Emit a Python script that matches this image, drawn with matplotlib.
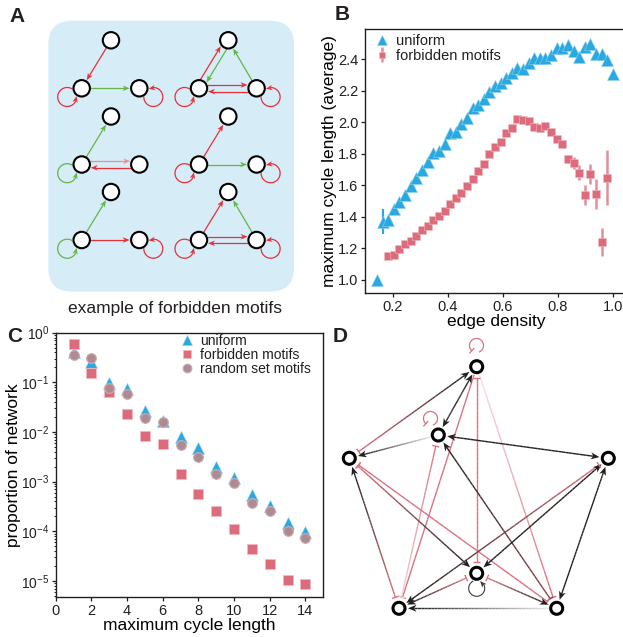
import numpy as np
import matplotlib
matplotlib.use('Agg')
import matplotlib.pyplot as plt
from matplotlib.patches import Circle, FancyBboxPatch, Polygon
from matplotlib.collections import LineCollection
from matplotlib.colors import to_rgb

plt.rcParams['font.family'] = ['Liberation Sans', 'DejaVu Sans']
plt.rcParams['mathtext.fontset'] = 'custom'
plt.rcParams['mathtext.rm'] = 'Liberation Sans'
plt.rcParams['mathtext.it'] = 'Liberation Sans:italic'
plt.rcParams['mathtext.bf'] = 'Liberation Sans:bold'
TXT = '#231F20'
plt.rcParams['text.color'] = TXT
plt.rcParams['axes.edgecolor'] = TXT
plt.rcParams['xtick.color'] = TXT
plt.rcParams['ytick.color'] = TXT

BLUE = '#2AA9E0'
RED = '#DC6C7B'
RED_ERR = '#E48E9A'
MAUVE = '#AE8A93'
A_RED = '#E8303A'
A_GREEN = '#64B646'
A_BG = '#D6ECF7'
D_RED = '#DB7080'
D_BLACK = '#231F20'

# ---- panel B data: edge density vs average maximum cycle length ----
dens_uniform = [0.143, 0.163, 0.184, 0.204, 0.224, 0.245, 0.265, 0.286, 0.306, 0.327,
                0.347, 0.367, 0.388, 0.408, 0.429, 0.449, 0.469, 0.490, 0.510, 0.531,
                0.551, 0.571, 0.592, 0.612, 0.633, 0.653, 0.673, 0.694, 0.714, 0.735,
                0.755, 0.776, 0.796, 0.816, 0.837, 0.857, 0.878, 0.898, 0.918, 0.939,
                0.959, 0.980, 1.000]
maxlen_uniform = [1.00, 1.37, 1.38, 1.448, 1.497, 1.539, 1.596, 1.645, 1.698, 1.75,
                  1.803, 1.82, 1.863, 1.935, 1.939, 1.99, 2.028, 2.089, 2.108, 2.15,
                  2.195, 2.23, 2.248, 2.28, 2.311, 2.345, 2.336, 2.379, 2.406, 2.41,
                  2.406, 2.427, 2.474, 2.474, 2.489, 2.455, 2.412, 2.48, 2.499, 2.431,
                  2.431, 2.396, 2.307]
err_uniform = [0, 0.077] + [0] * 41

dens_forbidden = [0.184, 0.204, 0.224, 0.245, 0.265, 0.286, 0.306, 0.327, 0.347, 0.367,
                  0.388, 0.408, 0.429, 0.449, 0.469, 0.490, 0.510, 0.531, 0.551, 0.571,
                  0.592, 0.612, 0.633, 0.653, 0.673, 0.694, 0.714, 0.735, 0.755, 0.776,
                  0.796, 0.816, 0.837, 0.857, 0.878, 0.898, 0.918, 0.939, 0.959, 0.980]
maxlen_forbidden = [1.154, 1.160, 1.197, 1.228, 1.249, 1.281, 1.317, 1.342, 1.380, 1.408,
                    1.437, 1.484, 1.522, 1.552, 1.598, 1.640, 1.693, 1.737, 1.801, 1.846,
                    1.877, 1.934, 1.962, 2.019, 2.015, 2.011, 1.973, 1.966, 1.977, 1.941,
                    1.892, 1.863, 1.765, 1.740, 1.681, 1.539, 1.670, 1.543, 1.239, 1.649]
err_forbidden = [0] * 26 + [0.008, 0.008, 0.01, 0.01, 0.02, 0.02, 0.026, 0.037,
                            0.048, 0.066, 0.063, 0.095, 0.09, 0.176]

# ---- panel C data: distribution of maximum cycle length ----
cycle_len = [1, 2, 3, 4, 5, 6, 7, 8, 9, 10, 11, 12, 13, 14]
prop_uniform = [0.40, 0.26, 0.095, 0.072, 0.026, 0.0165, 0.0078, 0.0048, 0.0020,
                0.00119, 0.00053, 0.00032, 0.000148, 0.000096]
prop_forbidden = [0.583, 0.153, 0.065, 0.0233, 0.0084, 0.0058, 0.00143, 0.000575,
                  0.000258, 0.000111, 4.3e-5, 2.16e-5, 1.05e-5, 8.5e-6]
prop_random = [0.351, 0.315, 0.076, 0.058, 0.019, 0.0158, 0.0055, 0.0032, 0.00145,
               0.00092, 0.000374, 0.000255, 0.000101, 7.4e-5]

# ---- panel A: motif layout (node offsets and edges) ----
motif_origins = [(81.7, 88.3), (199, 88.3), (81.7, 164.5), (199, 164.5), (81.7, 240), (199, 240)]
motif_nodes = {'BL': (0, 0), 'BR': (57.6, 0), 'T': (29.3, -48)}
motif_edges = [
    [('T', 'BL', A_RED, 0), ('BL', 'BR', A_GREEN, 0)],
    [('BL', 'T', A_RED, 3.3), ('T', 'BL', A_GREEN, 3.3), ('BR', 'T', A_GREEN, 0),
     ('BL', 'BR', A_RED, 3.3), ('BR', 'BL', A_RED, 3.3)],
    [('BL', 'T', A_GREEN, 0), ('BL', 'BR', '#EE8E92', 3.3), ('BR', 'BL', A_RED, 3.3)],
    [('BL', 'T', A_RED, 0), ('BL', 'BR', A_GREEN, 0)],
    [('BL', 'T', A_GREEN, 0), ('BL', 'BR', A_RED, 0)],
    [('BL', 'T', A_RED, 0), ('BR', 'T', A_GREEN, 0),
     ('BL', 'BR', A_RED, 3.3), ('BR', 'BL', A_RED, 3.3)],
]
motif_loops = [(A_RED, A_RED), (A_RED, A_RED), (A_GREEN, None),
               (A_RED, A_RED), (A_GREEN, A_RED), (A_RED, A_RED)]

# ---- panel D: network ----
d_nodes = {1: (476.7, 366.7), 2: (438.3, 435), 3: (349.3, 458.3), 4: (608.3, 458.3),
           5: (476.7, 573.3), 6: (399, 608.3), 7: (556.7, 608.3)}
K, R = D_BLACK, D_RED
d_edges = [
    (1, 3, 'arrow', 'tee', K, R),
    (1, 2, 'arrow', 'arrow', K, K),
    (1, 5, 'tee', 'tee', R, R),
    (1, 6, None, 'tee', R, R),
    (1, 7, None, 'tee', '#F8E0E4', R),
    (2, 3, None, 'arrow', '#E2E2E2', K),
    (2, 4, 'arrow', 'arrow', K, K),
    (2, 6, 'tee', 'tee', R, '#F4CDD3'),
    (2, 7, 'arrow', 'tee', K, '#8E4650'),
    (3, 5, 'tee', 'arrow', R, K),
    (3, 7, 'tee', 'tee', R, R),
    (3, 6, 'arrow', 'tee', K, R),
    (4, 5, 'arrow', 'arrow', K, K),
    (4, 6, 'tee', 'arrow', R, K),
    (4, 7, 'arrow', 'arrow', K, K),
    (5, 6, 'tee', 'arrow', R, K),
    (5, 7, 'tee', 'arrow', R, K),
    (7, 6, None, 'arrow', '#E6E6E6', K),
]

W, H = 623, 637
fig = plt.figure(figsize=(W / 100, H / 100), dpi=100)
ov = fig.add_axes([0, 0, 1, 1], zorder=0)
ov.set_xlim(0, W)
ov.set_ylim(H, 0)
ov.axis('off')


def unit(v):
    v = np.asarray(v, dtype=float)
    return v / np.hypot(v[0], v[1])


def head(p, d, kind, color, L, Wd, lw=1.0):
    p = np.asarray(p, dtype=float)
    d = unit(d)
    n = np.array([-d[1], d[0]])
    if kind == 'arrow':
        base = p - d * L
        pts = [p, base + n * Wd / 2, p - d * L * 0.72, base - n * Wd / 2]
        ov.add_patch(Polygon(pts, closed=True, fc=color, ec='none', zorder=4))
        return p - d * L * 0.7
    if kind == 'tee':
        ov.plot([p[0] + n[0] * Wd / 2, p[0] - n[0] * Wd / 2],
                [p[1] + n[1] * Wd / 2, p[1] - n[1] * Wd / 2],
                color=color, lw=lw, solid_capstyle='butt', zorder=4)
    return p


def grad_line(p0, p1, c0, c1, lw, n=40):
    p0, p1 = np.asarray(p0), np.asarray(p1)
    t = np.linspace(0, 1, n + 1)
    pts = p0 + (p1 - p0) * t[:, None]
    segs = np.stack([pts[:-1], pts[1:]], axis=1)
    a, b = np.array(to_rgb(c0)), np.array(to_rgb(c1))
    tm = (t[:-1] + t[1:]) / 2
    cols = a + (b - a) * tm[:, None]
    ov.add_collection(LineCollection(segs, colors=cols, linewidths=lw,
                                     capstyle='butt', zorder=3))


def loop(c, off, rl, rn, color, kind, lw, L, Wd, n=120):
    c = np.asarray(c, dtype=float)
    lc = c + np.asarray(off)
    dv = c - lc
    dist = np.hypot(dv[0], dv[1])
    phi = np.arctan2(dv[1], dv[0])
    alpha = np.arccos(np.clip((dist ** 2 + rl ** 2 - rn ** 2) / (2 * dist * rl), -1, 1))
    t = np.linspace(phi + 2 * np.pi - alpha, phi + alpha, n)
    pts = lc + rl * np.column_stack([np.cos(t), np.sin(t)])
    dt = L / rl
    back = lc + rl * np.array([np.cos(phi + alpha + dt), np.sin(phi + alpha + dt)])
    head(pts[-1], pts[-1] - back, kind, color, L, Wd)
    keep = t >= phi + alpha + dt * 0.7
    ov.plot(pts[keep, 0], pts[keep, 1], color=color, lw=lw, zorder=3,
            solid_capstyle='butt')


def open_loop(center, r, t0, t1, color, lw, Wd):
    t = np.radians(np.linspace(t0, t1, 80))
    cx, cy = center
    xs, ys = cx + r * np.cos(t), cy + r * np.sin(t)
    ov.plot(xs, ys, color=color, lw=lw, zorder=3)
    rad = np.array([np.cos(t[-1]), np.sin(t[-1])])
    p = np.array([xs[-1], ys[-1]])
    ov.plot([p[0] - rad[0] * Wd / 2, p[0] + rad[0] * Wd / 2],
            [p[1] - rad[1] * Wd / 2, p[1] + rad[1] * Wd / 2], color=color, lw=lw, zorder=4)


# ================= Panel A =================
ov.add_patch(FancyBboxPatch((48.3, 20.7), 245.7, 271, boxstyle='round,pad=0,rounding_size=24',
                            fc=A_BG, ec='none', zorder=1))
RA, RA_OUT = 8.2, 9.3
for (ox, oy), edges, (lbl, lbr) in zip(motif_origins, motif_edges, motif_loops):
    pos = {k: np.array([ox + v[0], oy + v[1]]) for k, v in motif_nodes.items()}
    for s, t, col, off in edges:
        d = unit(pos[t] - pos[s])
        nrm = np.array([d[1], -d[0]])
        sh = np.sqrt(RA_OUT ** 2 - off ** 2)
        a = pos[s] + nrm * off + d * sh
        b = pos[t] + nrm * off - d * (sh + 0.3)
        end = head(b, d, 'arrow', col, 7, 5.6)
        ov.plot([a[0], end[0]], [a[1], end[1]], color=col, lw=0.9, zorder=3)
    if lbl:
        loop(pos['BL'], (-14.5, 8.7), 9.5, RA_OUT, lbl, 'arrow', 0.9, 6.5, 5.4)
    if lbr:
        loop(pos['BR'], (14, 8.7), 9.5, RA_OUT, lbr, 'arrow', 0.9, 6.5, 5.4)
    for p in pos.values():
        ov.add_patch(Circle(p, RA, fc='white', ec='black', lw=1.5, zorder=5))

ov.text(175, 308, 'example of forbidden motifs', fontsize=12.5, ha='center', va='center')

# ================= Panel D =================
RD = 6.0
tipd = {'arrow': 9.0, 'tee': 11.5, None: 8.5}
for i, j, ha, hb, ca, cb in d_edges:
    pa, pb = np.array(d_nodes[i]), np.array(d_nodes[j])
    d = unit(pb - pa)
    ta = pa + d * tipd[ha]
    tb = pb - d * tipd[hb]
    la = head(ta, -d, ha, ca, 8.5, 7, lw=1.0) if ha else ta
    lb = head(tb, d, hb, cb, 8.5, 7, lw=1.0) if hb else tb
    grad_line(la, lb, ca, cb, 1.0)

open_loop((476.5, 345.5), 7.0, 65, -228, D_RED, 0.9, 6)
open_loop((430.5, 418.5), 7.0, 65, -228, D_RED, 0.9, 6)
loop(d_nodes[5], (0, 15), 8.0, 8.5, '#3A3A3A', 'arrow', 0.8, 6.5, 5.5)
for p in d_nodes.values():
    ov.add_patch(Circle(p, RD, fc='white', ec='black', lw=2.2, zorder=5))

# panel letters
for x, y, s in [(17, 17, 'A'), (341.7, 15, 'B'), (15, 336.7, 'C'), (340, 336.7, 'D')]:
    ov.text(x, y, s, fontsize=15, fontweight='bold', ha='center', va='center')


def style_axes(ax):
    for sp in ax.spines.values():
        sp.set_linewidth(1.0)
    ax.tick_params(which='major', direction='out', length=3, width=0.9, labelsize=10.5, pad=2)
    ax.tick_params(which='minor', direction='out', length=1.6, width=0.7)


# ================= Panel B =================
axB = fig.add_axes([365.3 / W, 1 - 292.7 / H, 261.3 / W, 263.7 / H], zorder=2)
ebu = axB.errorbar(dens_uniform, maxlen_uniform, yerr=err_uniform, fmt='^', color=BLUE,
                   ms=8, mec='#8FD0EE', mew=0.4, elinewidth=1.6, capsize=0)
ebf = axB.errorbar(dens_forbidden, maxlen_forbidden, yerr=err_forbidden, fmt='s', color=RED,
                   ecolor=RED_ERR, ms=5.8, mec='#F0B9C1', mew=0.4, elinewidth=1.8, capsize=0)
axB.set_xlim(0.1, 1.05)
axB.set_ylim(0.919, 2.592)
axB.set_xticks([0.2, 0.4, 0.6, 0.8, 1.0])
axB.set_yticks([1.0, 1.2, 1.4, 1.6, 1.8, 2.0, 2.2, 2.4])
style_axes(axB)
axB.set_xlabel('edge density', fontsize=12.5, labelpad=0)
axB.set_ylabel('maximum cycle length (average)', fontsize=12.5)
axB.yaxis.set_label_coords(-0.108, 0.5)
axB.legend([ebu[0], ebf], ['uniform', 'forbidden motifs'], loc='upper left', frameon=False,
           bbox_to_anchor=(5 / 261.3, 1.0),
           fontsize=10.5, handlelength=0.9, handletextpad=0.5, labelspacing=0.05,
           borderaxespad=0.05, borderpad=0.3, numpoints=1, markerscale=0.85)

# ================= Panel C =================
axC = fig.add_axes([55.7 / W, 1 - 597.3 / H, 267.6 / W, 264.6 / H], zorder=2)
axC.set_yscale('log')
axC.plot(cycle_len, prop_uniform, '^', color=BLUE, ms=8, mec='#8FD0EE', mew=0.4, label='uniform')
axC.plot(cycle_len, prop_forbidden, 's', color=RED, ms=6.5, mec='#F0B9C1', mew=0.6,
         label='forbidden motifs')
axC.plot(cycle_len, prop_random, 'o', color=MAUVE, ms=7, mec='#C9AEB4', mew=0.8,
         label='random set motifs')
axC.set_xlim(0, 15)
axC.set_ylim(10 ** -5.33, 1)
axC.set_xticks([0, 2, 4, 6, 8, 10, 12, 14])
axC.set_yticks([1e0, 1e-1, 1e-2, 1e-3, 1e-4, 1e-5])
style_axes(axC)
axC.tick_params(axis='y', which='major', labelsize=10, pad=1.5)
axC.set_xlabel('maximum cycle length', fontsize=12.5, labelpad=0)
axC.set_ylabel('proportion of network', fontsize=12.5)
axC.yaxis.set_label_coords(-0.13, 0.5)
axC.legend(loc='upper right', frameon=False, bbox_to_anchor=(1 - 11 / 267.6, 1.0),
           fontsize=10, handlelength=0.9, handletextpad=0.5,
           labelspacing=0.0, borderaxespad=0.0, borderpad=0.1, numpoints=1, markerscale=0.9)

fig.savefig('out.png', dpi=100)
